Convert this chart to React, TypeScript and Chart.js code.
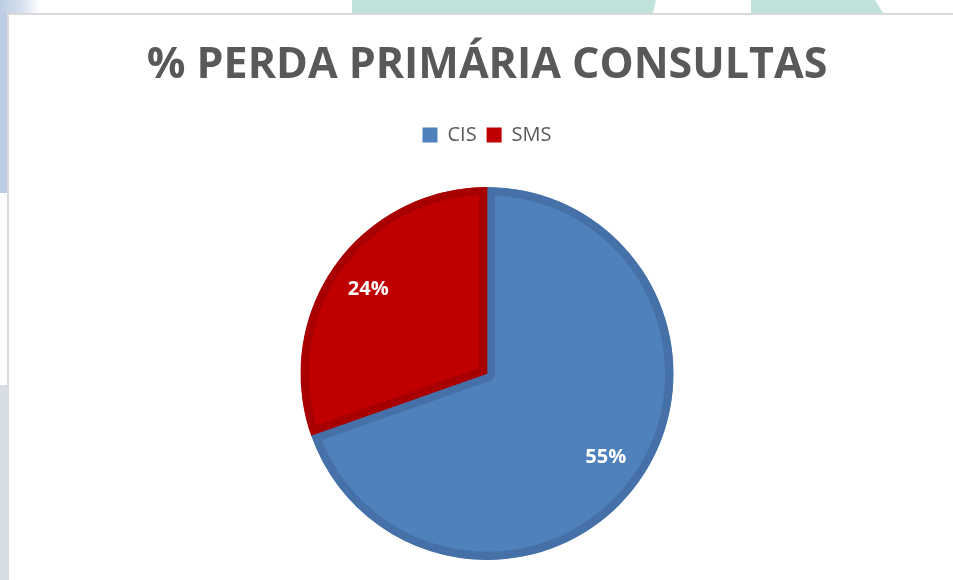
import React, { useEffect, useRef } from "react";
import { Chart, registerables } from "chart.js";

Chart.register(...registerables);

const chartTitle = "% PERDA PRIMÁRIA CONSULTAS";
const categories = ["CIS", "SMS"];
const percentValues = [55, 24];
const sliceColors = ["#4F81BD", "#C00000"];
const sliceBorderColors = ["#4671A8", "#A80000"];

const sliceLabelPlugin = {
  id: "sliceLabels",
  afterDatasetsDraw(chart: any) {
    const ctx = chart.ctx;
    const meta = chart.getDatasetMeta(0);
    const data = chart.data.datasets[0].data;
    ctx.save();
    ctx.fillStyle = "#FFFFFF";
    ctx.font = "bold 20px 'Open Sans', sans-serif";
    ctx.textAlign = "center";
    ctx.textBaseline = "middle";
    meta.data.forEach((arc: any, i: number) => {
      const p = arc.getProps(["x", "y", "startAngle", "endAngle", "outerRadius"], true);
      const mid = (p.startAngle + p.endAngle) / 2;
      const r = p.outerRadius * 0.78;
      ctx.fillText(data[i] + "%", p.x + Math.cos(mid) * r, p.y + Math.sin(mid) * r);
    });
    ctx.restore();
  },
};

export default function App() {
  const canvasRef = useRef<HTMLCanvasElement | null>(null);

  useEffect(() => {
    if (!canvasRef.current) return;
    Chart.defaults.font.family = "'Open Sans', sans-serif";
    const chart = new Chart(canvasRef.current, {
      type: "pie",
      data: {
        labels: categories,
        datasets: [
          {
            data: percentValues,
            backgroundColor: sliceColors,
            borderColor: sliceBorderColors,
            borderWidth: 8,
            borderAlign: "inner",
            hoverOffset: 0,
          } as any,
        ],
      },
      options: {
        responsive: false,
        animation: false,
        layout: { padding: { top: 0, bottom: 20, left: 0, right: 0 } },
        plugins: {
          title: {
            display: true,
            text: chartTitle,
            color: "#595959",
            font: { size: 43, weight: "bold", family: "'Open Sans', sans-serif", lineHeight: 1.2 },
            padding: { top: 27, bottom: 23.4 },
          },
          subtitle: {
            display: true,
            text: "",
            weight: 500,
            font: { size: 10, lineHeight: 1.2 },
            padding: { top: 0, bottom: 20 },
          } as any,
          legend: {
            display: true,
            position: "top",
            labels: {
              color: "#595959",
              font: { size: 20, family: "'Open Sans', sans-serif" },
              boxWidth: 15,
              boxHeight: 15,
              padding: 10,
              generateLabels: (c: any) => {
                const items = (Chart as any).overrides.pie.plugins.legend.labels.generateLabels(c);
                return items.map((it: any, i: number) => ({
                  ...it,
                  lineWidth: 0,
                  strokeStyle: sliceColors[i],
                  fillStyle: sliceColors[i],
                }));
              },
            },
          },
          tooltip: { enabled: false },
        },
      },
      plugins: [sliceLabelPlugin],
    });
    return () => chart.destroy();
  }, []);

  return (
    <div
      style={{
        position: "fixed",
        left: 0,
        top: 0,
        width: 953,
        height: 580,
        overflow: "hidden",
        background: "#FFFFFF",
      }}
    >
      <div style={{ position: "absolute", left: 0, top: 0, width: 7, height: 193, background: "#BCCDE3" }} />
      <div style={{ position: "absolute", left: 0, top: 385, width: 7, height: 195, background: "#D7DEE7" }} />
      <div
        style={{
          position: "absolute",
          left: 0,
          top: 0,
          width: 40,
          height: 13,
          background: "linear-gradient(90deg, #BCCDE3 0%, #D3DEEC 50%, rgba(255,255,255,0) 100%)",
        }}
      />
      <div
        style={{
          position: "absolute",
          left: 352,
          top: 0,
          width: 304,
          height: 13,
          background: "#C0E2DA",
          clipPath: "polygon(0 0, 100% 0, 99% 100%, 0 100%)",
        }}
      />
      <div
        style={{
          position: "absolute",
          left: 751,
          top: 0,
          width: 132,
          height: 13,
          background: "#C0E2DA",
          clipPath: "polygon(0 0, 94% 0, 100% 100%, 0 100%)",
        }}
      />
      <div
        style={{
          position: "absolute",
          left: 7,
          top: 13,
          width: 946,
          height: 567,
          background: "#FFFFFF",
          borderTop: "2px solid #D9D9D9",
          borderLeft: "2px solid #DCDCDC",
          boxSizing: "border-box",
        }}
      />
      <div style={{ position: "absolute", left: 21, top: 13, width: 932, height: 567 }}>
        <canvas ref={canvasRef} width={932} height={567} style={{ width: 932, height: 567, display: "block" }} />
      </div>
    </div>
  );
}
